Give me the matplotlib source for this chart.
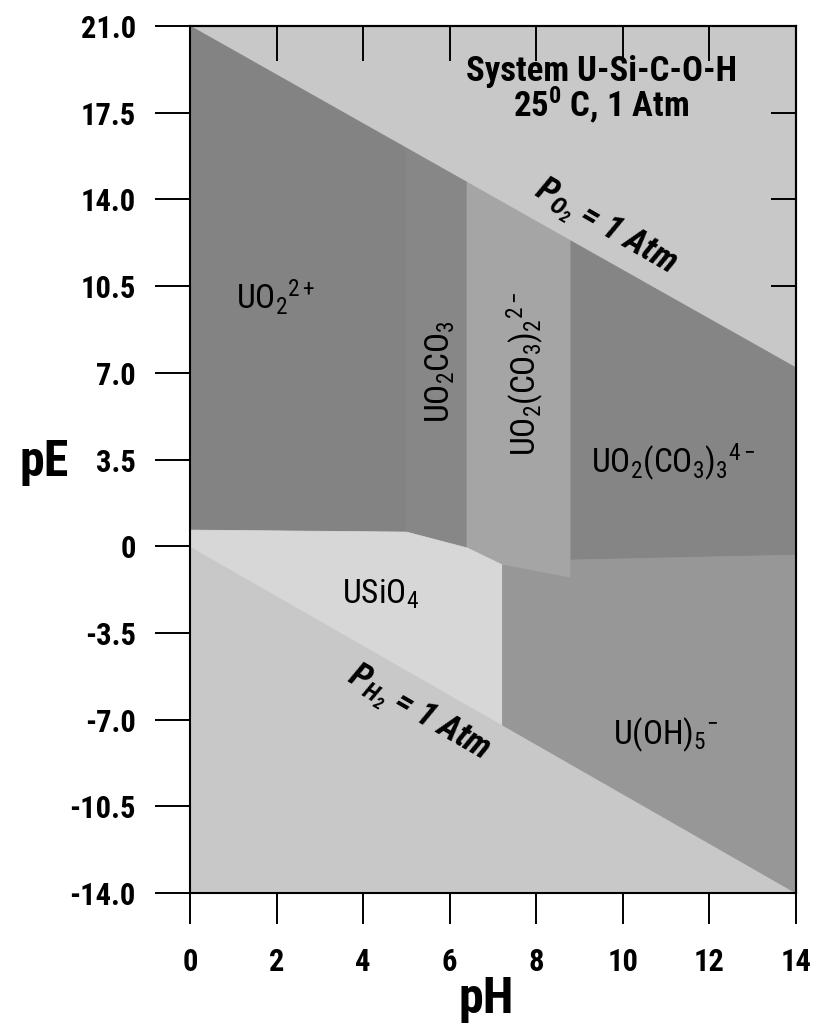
import matplotlib
matplotlib.use("Agg")
import matplotlib.pyplot as plt
from matplotlib import font_manager

# narrow helvetica-ish look if something condensed is around
names = {f.name for f in font_manager.fontManager.ttflist}
FONT = "Liberation Sans"
for cand in ["Liberation Sans Narrow", "Roboto Condensed", "Open Sans Condensed",
             "DejaVu Sans Condensed", "Noto Sans Condensed"]:
    if cand in names:
        FONT = cand
        break
plt.rcParams["font.family"] = [FONT, "DejaVu Sans"]
plt.rcParams["mathtext.fontset"] = "custom"
plt.rcParams["mathtext.rm"] = FONT
plt.rcParams["mathtext.it"] = FONT + ":italic"
plt.rcParams["mathtext.bf"] = FONT + ":bold"
plt.rcParams["mathtext.bfit"] = FONT + ":italic:bold"

# stability field outlines (pH, pE)
uo2_ph = [0.0, 5.0, 5.0, 0.0]
uo2_pe = [21.0, 16.07, 0.57, 0.65]

uo2co3_ph = [5.0, 6.4, 6.4, 5.0]
uo2co3_pe = [16.07, 14.69, -0.07, 0.57]

uo2co32_ph = [6.4, 8.8, 8.8, 7.22, 6.4]
uo2co32_pe = [14.69, 12.32, -1.29, -0.76, -0.07]

uo2co33_ph = [8.8, 14.0, 14.0, 8.8]
uo2co33_pe = [12.32, 7.2, -0.36, -0.56]

usio4_ph = [0.0, 5.0, 6.4, 7.22, 7.22, 0.0]
usio4_pe = [0.65, 0.57, -0.07, -0.76, -7.22, 0.0]

uoh5_ph = [7.22, 8.8, 8.8, 14.0, 14.0, 7.22]
uoh5_pe = [-0.76, -1.29, -0.56, -0.36, -14.0, -7.22]

ph_ticks = [0, 2, 4, 6, 8, 10, 12, 14]
pe_ticks = [21.0, 17.5, 14.0, 10.5, 7.0, 3.5, 0, -3.5, -7.0, -10.5, -14.0]
pe_labels = ["21.0", "17.5", "14.0", "10.5", "7.0", "3.5", "0",
             "-3.5", "-7.0", "-10.5", "-14.0"]

fig = plt.figure(figsize=(8.29, 10.24), dpi=100)
ax = fig.add_axes([190 / 829, 1 - 893 / 1024, 606 / 829, 867 / 1024])
ax.set_facecolor("#c8c8c8")

fields = [
    (uo2_ph, uo2_pe, "#838383"),
    (uo2co3_ph, uo2co3_pe, "#878787"),
    (uo2co32_ph, uo2co32_pe, "#a5a5a5"),
    (uo2co33_ph, uo2co33_pe, "#858585"),
    (usio4_ph, usio4_pe, "#d7d7d7"),
    (uoh5_ph, uoh5_pe, "#979797"),
]
for x, y, c in fields:
    ax.fill(x, y, facecolor=c, edgecolor=c, lw=0.6, zorder=1)

ax.set_xlim(0, 14)
ax.set_ylim(-14, 21)

# field names
ax.text(1.99, 10.06, r"$\mathrm{UO_2{}^{2+}}$", fontsize=24, ha="center", va="center")
ax.text(5.78, 7.03, r"$\mathrm{UO_2CO_3}$", fontsize=24, ha="center", va="center", rotation=90)
ax.text(7.74, 6.95, r"$\mathrm{UO_2(CO_3)_2{}^{2-}}$", fontsize=24, ha="center", va="center", rotation=90)
ax.text(11.16, 3.4, r"$\mathrm{UO_2(CO_3)_3{}^{4-}}$", fontsize=24, ha="center", va="center")
ax.text(4.39, -1.93, r"$\mathrm{USiO_4}$", fontsize=24, ha="center", va="center")
ax.text(11.0, -7.62, r"$\mathrm{U(OH)_5{}^{-}}$", fontsize=24, ha="center", va="center")

# gas boundaries
ax.text(9.59, 12.85, r"$\mathbfit{P_{O_2}}$ = 1 Atm", fontsize=25, fontweight="bold",
        style="italic", ha="center", va="center", rotation=-30)
ax.text(5.27, -6.75, r"$\mathbfit{P_{H_2}}$ = 1 Atm", fontsize=25, fontweight="bold",
        style="italic", ha="center", va="center", rotation=-30)

ax.text(9.5, 19.15, "System U-Si-C-O-H", fontsize=25, fontweight="bold", ha="center", va="center")
ax.text(9.5, 17.8, r"25$^{\mathbf{0}}$ C, 1 Atm", fontsize=25, fontweight="bold",
        ha="center", va="center")

ax.set_xticks(ph_ticks)
ax.set_xticklabels([str(t) for t in ph_ticks], fontsize=22, fontweight="bold")
ax.set_yticks(pe_ticks)
ax.set_yticklabels(pe_labels, fontsize=22, fontweight="bold")
ax.tick_params(axis="x", direction="out", length=22, width=1.4, pad=17)
ax.tick_params(axis="y", direction="out", length=25, width=1.4, pad=14)

top = ax.secondary_xaxis("top")
top.set_xticks(ph_ticks[1:-1])
top.tick_params(direction="in", length=25, width=1.4, labeltop=False)
right = ax.secondary_yaxis("right")
right.set_yticks(pe_ticks[1:-1])
right.tick_params(direction="in", length=18, width=1.4, labelright=False)

for s in list(ax.spines.values()) + [top.spines["top"], right.spines["right"]]:
    s.set_linewidth(1.5)

ax.set_xlabel("pH", fontsize=36, fontweight="bold", va="center")
ax.xaxis.set_label_coords(0.488, -0.123)
ax.set_ylabel("pE", fontsize=36, fontweight="bold", rotation=0, ha="center", va="center")
ax.yaxis.set_label_coords(-0.241, 0.497)

fig.savefig("out.png", dpi=100)
